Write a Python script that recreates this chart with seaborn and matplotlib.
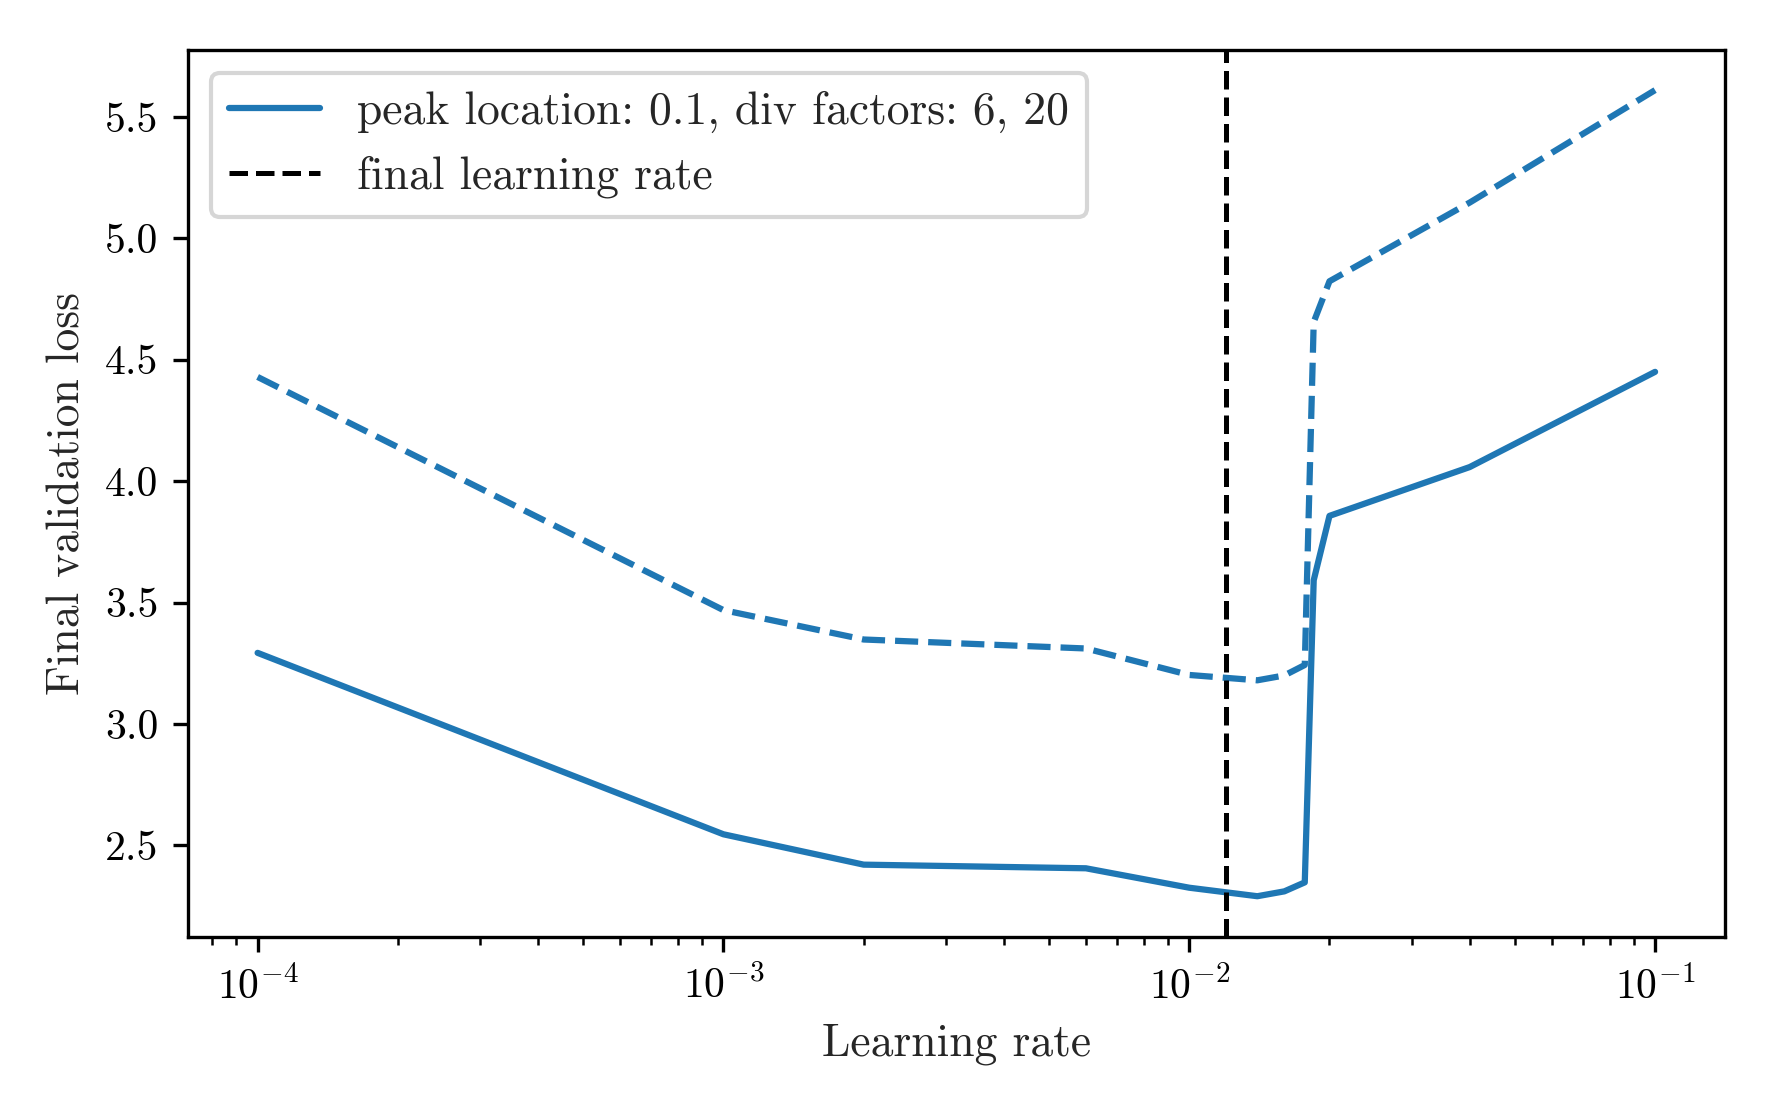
import numpy as np
import pandas as pd
import matplotlib
matplotlib.use("Agg")
import matplotlib.pyplot as plt
import seaborn as sns

# Data
learning_rates = [1e-4, 1e-3, 2e-3, 6e-3, 1e-2, 0.014, 0.016, 0.0177, 0.0185, 0.02, 0.04, 0.1]
loss_solid = [3.293, 2.546, 2.421, 2.406, 2.326, 2.291, 2.311, 2.348, 3.592, 3.857, 4.058, 4.45]
loss_dashed = [4.429, 3.469, 3.348, 3.311, 3.202, 3.180, 3.200, 3.243, 4.655, 4.823, 5.147, 5.61]
final_lr = 0.012
series_label = "peak location: 0.1, div factors: 6, 20"
final_label = "final learning rate"

sns.set_style("ticks")
plt.rcParams.update({
    "font.family": ["cmr10", "DejaVu Serif"],
    "mathtext.fontset": "cm",
    "axes.formatter.use_mathtext": True,
    "font.size": 10,
    "axes.labelsize": 10.95,
    "xtick.labelsize": 10,
    "ytick.labelsize": 10,
    "legend.fontsize": 10.95,
    "axes.linewidth": 0.8,
    "xtick.major.width": 0.8,
    "ytick.major.width": 0.8,
    "xtick.minor.width": 0.6,
    "xtick.major.size": 3.5,
    "ytick.major.size": 3.5,
    "xtick.minor.size": 2,
    "axes.edgecolor": "black",
    "xtick.color": "black",
    "ytick.color": "black",
})

df = pd.DataFrame({"lr": learning_rates, "solid": loss_solid, "dashed": loss_dashed})

fig, ax = plt.subplots(figsize=(1771 / 300, 1107 / 300), dpi=300)
color = "#1f77b4"
sns.lineplot(data=df, x="lr", y="solid", ax=ax, color=color, linewidth=1.5,
             label=series_label, sort=False)
sns.lineplot(data=df, x="lr", y="dashed", ax=ax, color=color, linewidth=1.5,
             linestyle="--", sort=False, label="_nolegend_")
ax.axvline(final_lr, color="black", linestyle="--", linewidth=1.2, label=final_label)
ax.set_xscale("log")
ax.set_xlabel("Learning rate")
ax.set_ylabel("Final validation loss")
ax.set_yticks([2.5, 3.0, 3.5, 4.0, 4.5, 5.0, 5.5])
ax.set_yticklabels(["2.5", "3.0", "3.5", "4.0", "4.5", "5.0", "5.5"])
ax.legend(loc="upper left")

fig.subplots_adjust(left=0.106, right=0.974, top=0.955, bottom=0.154)
fig.savefig("out.png", dpi=300)
